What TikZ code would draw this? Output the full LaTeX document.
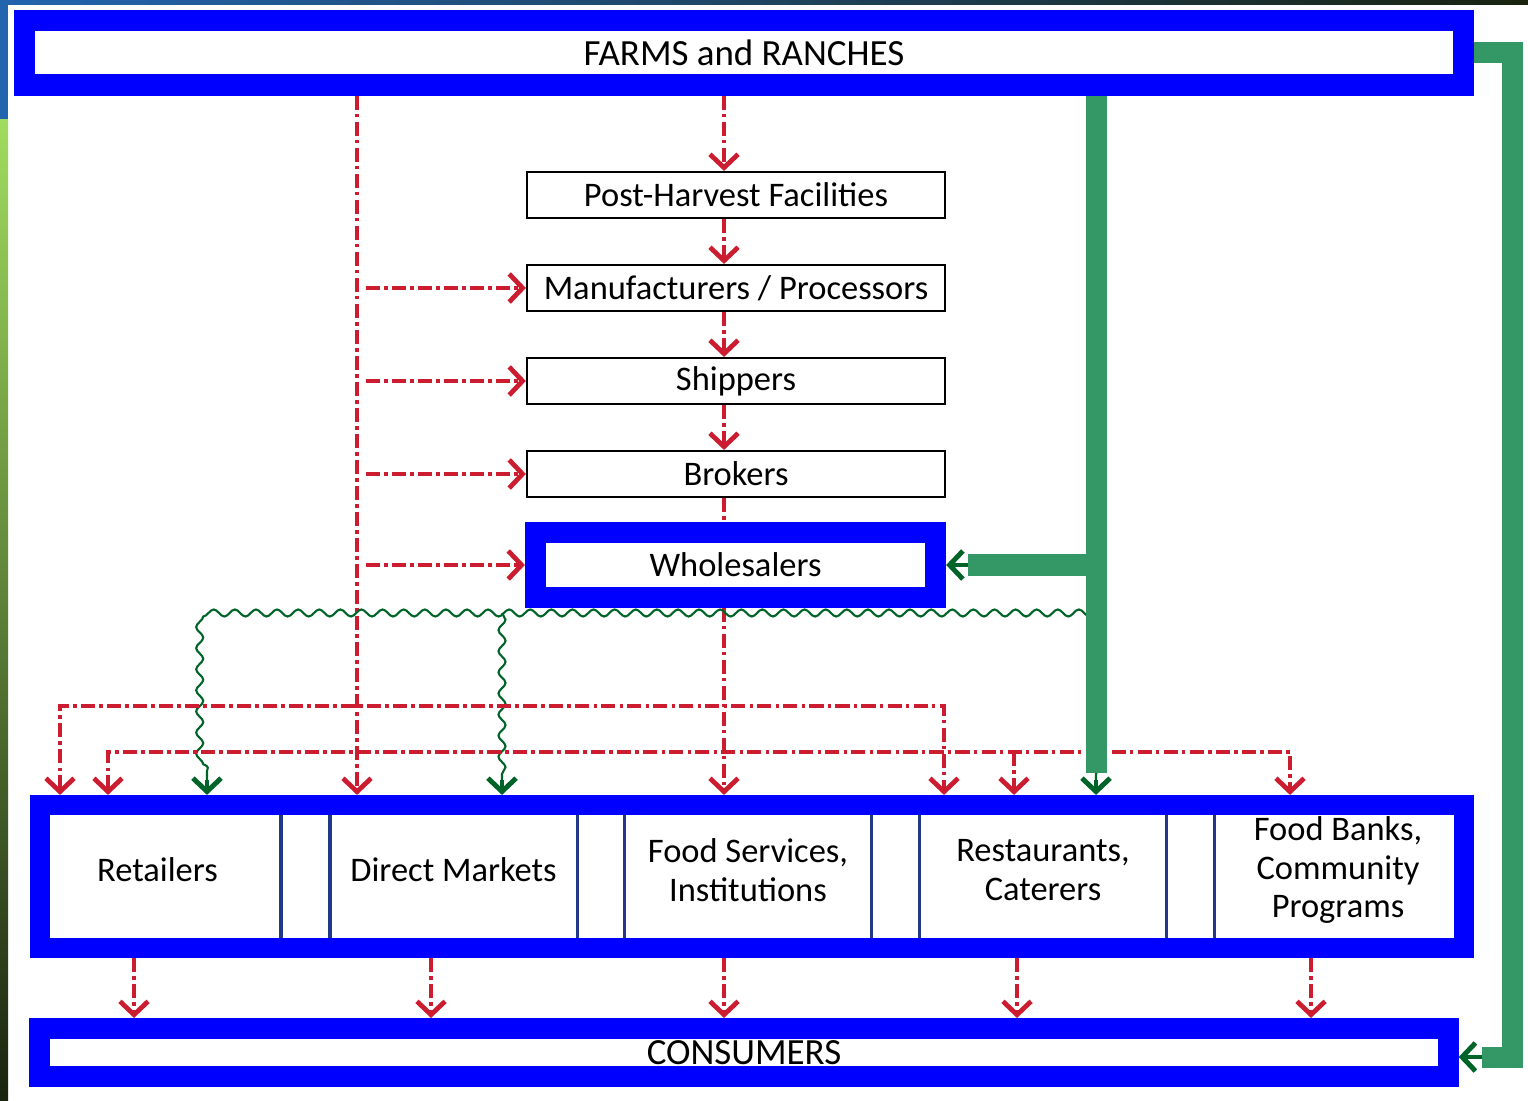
\documentclass[tikz,border=0pt]{standalone}
\usepackage{fontspec}
\setmainfont{Carlito}
\usetikzlibrary{arrows.meta,decorations.pathmorphing}
\definecolor{chainred}{RGB}{204,28,48}
\definecolor{frameblue}{RGB}{0,0,255}
\definecolor{pipegreen}{RGB}{52,152,102}
\definecolor{tipgreen}{RGB}{0,100,40}
\definecolor{boxnavy}{RGB}{35,55,140}
\definecolor{slideblue}{RGB}{35,100,175}
\definecolor{slidegreen}{RGB}{160,220,95}
\definecolor{slidedark}{RGB}{25,35,15}
\begin{document}
\begin{tikzpicture}[x=0.01cm,y=-0.01cm,font=\fontsize{9.8}{11}\selectfont]
\tikzset{
 framed/.style={draw=frameblue, line width=0.21cm, fill=white, inner sep=0pt},
 bigcaps/.style={font=\fontsize{10.5}{12}\selectfont},
 stage/.style={draw=black, line width=0.6pt, fill=white, minimum width=4.18cm, minimum height=0.46cm, inner sep=0pt},
 outlet/.style={draw=boxnavy, line width=0.9pt, fill=white, minimum width=2.47cm, minimum height=1.4cm, align=center, inner sep=0pt},
 redflow/.style={draw=chainred, line width=1.35pt, dash pattern=on 4pt off 1.2pt on 1pt off 1.2pt},
 redtip/.style={redflow, -{Straight Barb[length=3.8pt,width=8pt]}},
 redboth/.style={redflow, {Straight Barb[length=3.8pt,width=8pt]}-{Straight Barb[length=3.8pt,width=8pt]}},
 pipe/.style={draw=pipegreen, line width=0.21cm, line join=miter},
 wiggle/.style={draw=tipgreen, line width=0.6pt, decorate, decoration={snake, amplitude=1pt, segment length=6pt}},
 greentip/.style={draw=tipgreen, line width=1.4pt, -{Straight Barb[length=3.8pt,width=8pt]}}
}
\useasboundingbox (0,0) rectangle (1528,1101);
% slide background
\fill[white] (0,0) rectangle (1528,1101);
\shade[left color=slideblue, right color=slidedark] (0,0) rectangle (1528,5);
\fill[slideblue] (0,0) rectangle (8,120);
\shade[top color=slidegreen, bottom color=slidedark] (0,120) rectangle (8,1101);
% the chain
\node[framed, bigcaps, minimum width=14.38cm, minimum height=0.64cm] (farms) at (744,53) {FARMS and RANCHES};
\node[stage] (post) at (736,195) {Post-Harvest Facilities};
\node[stage] (makers) at (736,288) {Manufacturers / Processors};
\node[stage] (ship) at (736,381) {Shippers};
\node[stage] (brokers) at (736,474) {Brokers};
\node[framed, minimum width=4.0cm, minimum height=0.64cm] (whole) at (735.5,565) {Wholesalers};
% outlets row
\foreach \name/\cx/\txt in {retail/157.5/Retailers, direct/453.5/Direct Markets,
  food/748/{Food Services,\\Institutions}, rest/1043/{Restaurants,\\Caterers},
  banks/1338/{Food Banks,\\Community\\Programs}}
  \node[outlet] (\name) at (\cx,870) {\txt};
\node[draw=frameblue, line width=0.2cm, inner sep=0pt, minimum width=14.235cm, minimum height=1.43cm] (outlets) at (752,876.5) {};
\node[framed, bigcaps, minimum width=14.075cm, minimum height=0.48cm] (cons) at (744,1052.5) {CONSUMERS};
% red flows down the middle
\coordinate (spine) at (724,0);
\foreach \a/\b in {farms/post, post/makers, makers/ship, ship/brokers}
  \draw[redtip] (spine |- \a.south) -- (spine |- \b.north);
\draw[redflow] (spine |- brokers.south) -- (spine |- whole.north);
\draw[redtip] (spine |- whole.south) -- (spine |- outlets.north);
% red trunk on the left
\coordinate (trunk) at (357,0);
\draw[redtip] (trunk |- farms.south) -- (trunk |- outlets.north);
\foreach \n in {makers,ship,brokers,whole}
  \draw[redtip, shorten <=2.5pt] (trunk |- \n.west) -- (\n.west);
% green wiggles
\coordinate (wR) at (1096,613);
\coordinate (wL) at (207,613);
\coordinate (wM) at (502,613);
\draw[wiggle] (wR) -- (wL) -- (207,780) coordinate (wLend);
\draw[wiggle] (wM) -- (502,780) coordinate (wMend);
\draw[wiggle] (wR) -- (1096,780) coordinate (wRend);
\foreach \c in {wLend,wMend,wRend}
  \draw[greentip] (\c) -- (\c |- outlets.north);
% red distribution lines
\coordinate (upL) at (60,706);
\coordinate (upR) at (944,706);
\coordinate (loL) at (108,752);
\coordinate (loR) at (1290,752);
\coordinate (loM) at (1014,752);
\draw[redboth] (upL |- outlets.north) -- (upL) -- (upR) -- (upR |- outlets.north);
\draw[redboth] (loL |- outlets.north) -- (loL) -- (loR) -- (loR |- outlets.north);
\draw[redtip] (loM) -- (loM |- outlets.north);
% green pipes
\coordinate (riser) at (1096,0);
\coordinate (riserend) at (1096,773);
\coordinate (hook) at (968,565);
\draw[pipe] (riser |- farms.south) -- (riserend);
\draw[pipe] (riser |- whole.east) -- (hook);
\draw[greentip] (hook) -- (whole.east);
\coordinate (loopT) at (1512,53);
\coordinate (loopB) at (1512,1057);
\coordinate (loopE) at (1482,1057);
\draw[pipe] (farms.east) -- (loopT) -- (loopB) -- (loopE);
\draw[greentip] (loopE) -- (cons.east |- loopE);
% red flows to consumers
\foreach \x in {134,431,724,1017,1311} {
  \coordinate (drop) at (\x,0);
  \draw[redtip] (drop |- outlets.south) -- (drop |- cons.north);
}
\end{tikzpicture}
\end{document}
